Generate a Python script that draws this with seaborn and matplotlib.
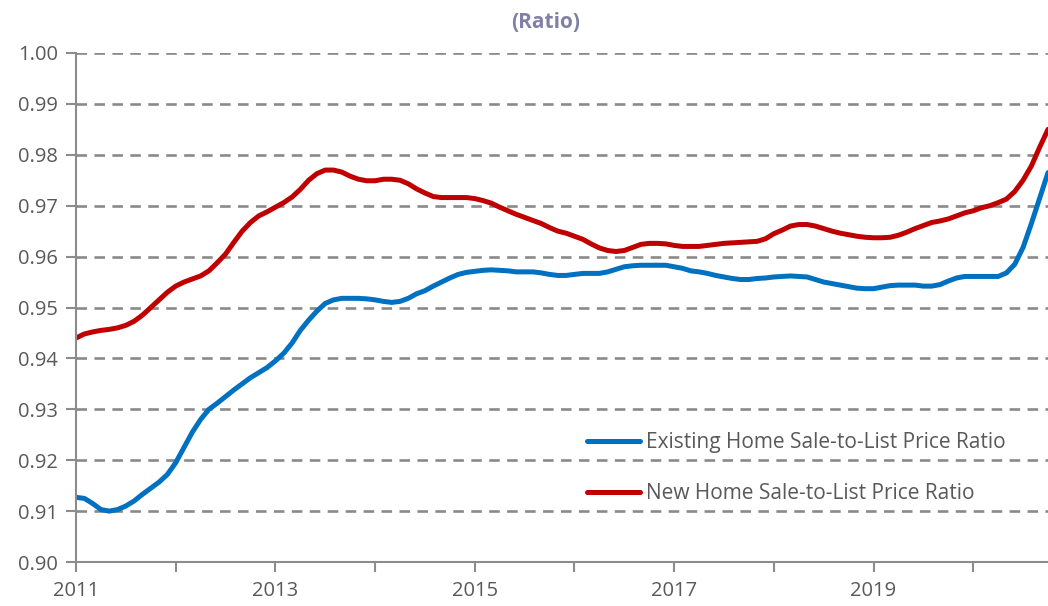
import numpy as np
import pandas as pd
import matplotlib
matplotlib.use("Agg")
import matplotlib.pyplot as plt
import seaborn as sns

# Monthly data, Jan 2011 - Oct 2020
existing = [
    0.9127, 0.9125, 0.9115, 0.9103, 0.9100, 0.9103, 0.9110, 0.9120, 0.9133, 0.9145, 0.9157, 0.9172,
    0.9195, 0.9225, 0.9255, 0.9280, 0.9300, 0.9312, 0.9325, 0.9338, 0.9350, 0.9362, 0.9372, 0.9382,
    0.9395, 0.9410, 0.9430, 0.9455, 0.9475, 0.9493, 0.9508, 0.9515, 0.9518, 0.9518, 0.9518, 0.9517,
    0.9515, 0.9512, 0.9510, 0.9512, 0.9518, 0.9527, 0.9533, 0.9542, 0.9550, 0.9558, 0.9565, 0.9569,
    0.9571, 0.9573, 0.9574, 0.9573, 0.9572, 0.9570, 0.9570, 0.9570, 0.9568, 0.9565, 0.9563, 0.9563,
    0.9565, 0.9567, 0.9567, 0.9567, 0.9570, 0.9575, 0.9580, 0.9582, 0.9583, 0.9583, 0.9583, 0.9583,
    0.9580, 0.9577, 0.9572, 0.9570, 0.9567, 0.9563, 0.9560, 0.9557, 0.9555, 0.9555, 0.9557, 0.9558,
    0.9560, 0.9561, 0.9562, 0.9561, 0.9560, 0.9555, 0.9550, 0.9547, 0.9544, 0.9541, 0.9538, 0.9537,
    0.9537, 0.9540, 0.9543, 0.9544, 0.9544, 0.9544, 0.9542, 0.9542, 0.9545, 0.9552, 0.9558, 0.9561,
    0.9561, 0.9561, 0.9561, 0.9561, 0.9568, 0.9585, 0.9618, 0.9665, 0.9715, 0.9765,
]
new = [
    0.9440, 0.9448, 0.9452, 0.9455, 0.9457, 0.9460, 0.9465, 0.9473, 0.9485, 0.9500, 0.9515, 0.9530,
    0.9542, 0.9550, 0.9556, 0.9562, 0.9572, 0.9588, 0.9605, 0.9628, 0.9650, 0.9667, 0.9680, 0.9688,
    0.9697, 0.9706, 0.9717, 0.9732, 0.9750, 0.9763, 0.9770, 0.9770, 0.9766, 0.9758, 0.9752, 0.9749,
    0.9749, 0.9752, 0.9752, 0.9750, 0.9743, 0.9733, 0.9725, 0.9718, 0.9716, 0.9716, 0.9716, 0.9716,
    0.9714, 0.9710, 0.9705, 0.9697, 0.9690, 0.9683, 0.9677, 0.9671, 0.9665, 0.9657, 0.9650, 0.9646,
    0.9640, 0.9634, 0.9625, 0.9617, 0.9612, 0.9610, 0.9612, 0.9618, 0.9624, 0.9626, 0.9626, 0.9625,
    0.9622, 0.9620, 0.9620, 0.9620, 0.9622, 0.9624, 0.9626, 0.9627, 0.9628, 0.9629, 0.9630, 0.9635,
    0.9645, 0.9652, 0.9660, 0.9663, 0.9663, 0.9660, 0.9655, 0.9650, 0.9646, 0.9643, 0.9640, 0.9638,
    0.9637, 0.9637, 0.9638, 0.9642, 0.9648, 0.9655, 0.9661, 0.9667, 0.9670, 0.9674, 0.9680, 0.9686,
    0.9690, 0.9696, 0.9700, 0.9706, 0.9713, 0.9728, 0.9750, 0.9778, 0.9815, 0.9850,
]
series_names = ["Existing Home Sale-to-List Price Ratio", "New Home Sale-to-List Price Ratio"]
colors = ["#0070C0", "#C00000"]
years = list(range(2011, 2021))
year_labels = ["2011", "", "2013", "", "2015", "", "2017", "", "2019", ""]
y_ticks = [0.90, 0.91, 0.92, 0.93, 0.94, 0.95, 0.96, 0.97, 0.98, 0.99, 1.00]

months = np.arange(len(existing))
df = pd.DataFrame({
    "month": np.concatenate([months, months]),
    "value": existing + new,
    "series": [series_names[0]] * len(existing) + [series_names[1]] * len(new),
})

sns.set_style("white")
plt.rcParams["font.family"] = ["Open Sans", "DejaVu Sans"]

fig = plt.figure(figsize=(10.48, 6.06), dpi=100)
ax = fig.add_axes([76 / 1048, 1 - 562 / 606, 1 - 76 / 1048, (562 - 53) / 606])

sns.lineplot(data=df, x="month", y="value", hue="series", palette=colors,
             linewidth=3.6, ax=ax, legend=True)

ax.set_xlim(0, len(existing) - 1)
ax.set_ylim(0.90, 1.00)
ax.set_yticks(y_ticks)
ax.set_yticklabels([f"{v:.2f}" for v in y_ticks])
ax.set_xticks([(y - 2011) * 12 for y in years])
ax.set_xticklabels(year_labels)
ax.set_xlabel("")
ax.set_ylabel("")

ax.grid(axis="y", color="#8A8A8A", linestyle=(0, (4, 2.8)), linewidth=1.9)
ax.grid(axis="x", visible=False)
for s in ["top", "right"]:
    ax.spines[s].set_visible(False)
for s in ["left", "bottom"]:
    ax.spines[s].set_color("#8C8C8C")
    ax.spines[s].set_linewidth(1.5)
ax.tick_params(axis="both", which="major", direction="out", length=7, width=1.5,
               color="#8C8C8C", labelcolor="#595959", labelsize=14.5, left=True, bottom=True)
ax.tick_params(axis="x", pad=7)
ax.tick_params(axis="y", pad=6)

leg = ax.legend(loc="upper left", bbox_to_anchor=(0.506, 0.292), frameon=False,
                fontsize=15, labelspacing=1.45, handlelength=2.55, handletextpad=0.3,
                labelcolor="#595959")
for line in leg.get_lines():
    line.set_linewidth(3.6)
    line.set_solid_capstyle("round")

fig.text(546 / 1048, 1 - 22 / 606, "(Ratio)", ha="center", va="center",
         fontsize=15, fontweight="bold", color="#8080A6")

fig.savefig("out.png", dpi=100)
